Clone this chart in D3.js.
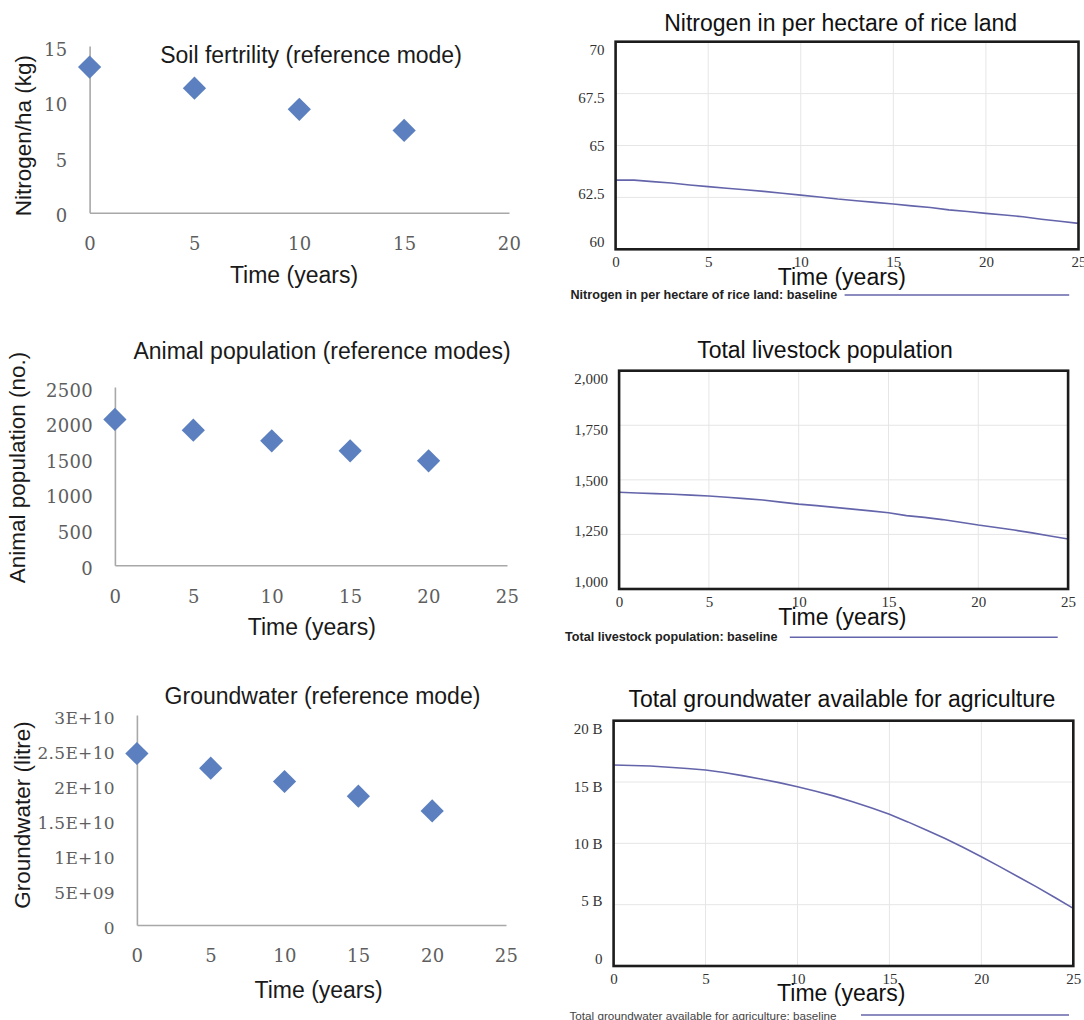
<!DOCTYPE html>
<html>
<head>
<meta charset="utf-8">
<script src="https://cdn.jsdelivr.net/npm/d3@7"></script>
<style>
  html, body { margin: 0; padding: 0; background: #fff; }
  svg { display: block; }
</style>
</head>
<body>
<svg id="chart" width="1084" height="1020"></svg>
<script>
// ---------------- DATA ----------------
// Reference modes (scatter, left column)
const soilYears = [0, 5, 10, 15];
const soilNitrogen = [13.1, 11.2, 9.3, 7.4];
const soilXTicks = [0, 5, 10, 15, 20];
const soilYTicks = [0, 5, 10, 15];

const animalYears = [0, 5, 10, 15, 20];
const animalPopulation = [2045, 1895, 1745, 1605, 1465];
const animalXTicks = [0, 5, 10, 15, 20, 25];
const animalYTicks = [0, 500, 1000, 1500, 2000, 2500];

const gwRefYears = [0, 5, 10, 15, 20];
const gwRefLitres = [2.45e10, 2.24e10, 2.05e10, 1.84e10, 1.63e10];
const gwRefXTicks = [0, 5, 10, 15, 20, 25];
const gwRefYTicks = [0, 5e9, 1e10, 1.5e10, 2e10, 2.5e10, 3e10];
const gwRefYLabels = ["0", "5E+09", "1E+10", "1.5E+10", "2E+10", "2.5E+10", "3E+10"];

// Simulation baselines (lines, right column)
const simYears = [0,1,2,3,4,5,6,7,8,9,10,11,12,13,14,15,16,17,18,19,20,21,22,23,24,25];
const simXTicks = [0, 5, 10, 15, 20, 25];

const nitrogenBaseline = [63.33, 63.33, 63.26, 63.19, 63.10, 63.02, 62.94, 62.87, 62.79, 62.70,
  62.61, 62.52, 62.42, 62.34, 62.26, 62.18, 62.09, 62.01, 61.90, 61.82,
  61.73, 61.65, 61.57, 61.45, 61.35, 61.25];
const nitrogenYTicks = [60, 62.5, 65, 67.5, 70];
const nitrogenYLabels = ["60", "62.5", "65", "67.5", "70"];

const livestockBaseline = [1443, 1440, 1437, 1434, 1430, 1426, 1420, 1414, 1408, 1398,
  1389, 1382, 1374, 1366, 1358, 1349, 1336, 1328, 1318, 1306,
  1293, 1282, 1270, 1257, 1243, 1229];
const livestockYTicks = [1000, 1250, 1500, 1750, 2000];
const livestockYLabels = ["1,000", "1,250", "1,500", "1,750", "2,000"];

// billions of litres
const groundwaterBaseline = [16.39, 16.35, 16.31, 16.2, 16.1, 15.98, 15.77, 15.52, 15.25, 14.95,
  14.62, 14.25, 13.85, 13.4, 12.9, 12.37, 11.75, 11.09, 10.41, 9.68,
  8.91, 8.1, 7.28, 6.45, 5.58, 4.70];
const groundwaterYTicks = [0, 5, 10, 15, 20];
const groundwaterYLabels = ["0", "5 B", "10 B", "15 B", "20 B"];

// ---------------- LAYOUT / STYLE ----------------
const svg = d3.select("#chart");
const SANS = "'Liberation Sans', Arial, sans-serif";
const SERIF_L = "'DejaVu Serif', serif";
const SERIF_R = "'Liberation Serif', 'Times New Roman', serif";

function drawScatterPanel(cfg) {
  const x = d3.scaleLinear().domain([0, cfg.xTicks[cfg.xTicks.length - 1]]).range(cfg.xRange);
  const y = d3.scaleLinear().domain([0, cfg.yTicks[cfg.yTicks.length - 1]]).range(cfg.yRange);
  const g = svg.append("g");

  const yAxis = d3.axisLeft(y).tickValues(cfg.yTicks).tickSize(0).tickSizeOuter(0).tickPadding(22)
    .tickFormat((d, i) => cfg.yLabels ? cfg.yLabels[i] : d);
  const ya = g.append("g").attr("transform", `translate(${cfg.xRange[0]},0)`).call(yAxis);

  const xAxis = d3.axisBottom(x).tickValues(cfg.xTicks).tickSize(0).tickSizeOuter(0).tickPadding(24.5);
  const xa = g.append("g").attr("transform", `translate(0,${cfg.yRange[0]})`).call(xAxis);

  [ya, xa].forEach(a => {
    a.select(".domain").attr("stroke", "#a8a8a8").attr("stroke-width", 1.6);
    a.selectAll("text").attr("font-family", SERIF_L).attr("font-size", 18)
      .attr("fill", "#5e5e5e").attr("letter-spacing", 0.3);
  });
  ya.selectAll("text").attr("dy", "0.5em").attr("font-size", cfg.yLabelSize || 18);

  g.selectAll("path.pt").data(cfg.xs.map((t, i) => [t, cfg.ys[i]])).enter()
    .append("path").attr("class", "pt")
    .attr("d", d3.symbol(d3.symbolSquare, 270)())
    .attr("transform", d => `translate(${x(d[0])},${y(d[1])}) rotate(45)`)
    .attr("fill", "#5b7fbf");

  g.append("text").attr("x", cfg.title.x).attr("y", cfg.title.y)
    .attr("text-anchor", "middle").attr("dominant-baseline", "central")
    .attr("font-family", SANS).attr("font-size", 23).attr("fill", "#1a1a1a").text(cfg.title.text);
  g.append("text").attr("x", cfg.xTitle.x).attr("y", cfg.xTitle.y)
    .attr("text-anchor", "middle").attr("dominant-baseline", "central")
    .attr("font-family", SANS).attr("font-size", 23).attr("fill", "#1a1a1a").text("Time (years)");
  g.append("text").attr("transform", `translate(${cfg.yTitle.x},${cfg.yTitle.y}) rotate(-90)`)
    .attr("text-anchor", "middle").attr("dominant-baseline", "central")
    .attr("font-family", SANS).attr("font-size", 22.5).attr("fill", "#1a1a1a").text(cfg.yTitle.text);
}

function drawLinePanel(cfg) {
  const yd = [cfg.yTicks[0], cfg.yTicks[cfg.yTicks.length - 1]];
  const x = d3.scaleLinear().domain([0, 25]).range(cfg.xRange);
  const y = d3.scaleLinear().domain(yd).range(cfg.yRange);
  const g = svg.append("g");

  // grid
  g.selectAll("line.vg").data(simXTicks.slice(1, -1)).enter().append("line")
    .attr("x1", d => x(d)).attr("x2", d => x(d))
    .attr("y1", cfg.yRange[1]).attr("y2", cfg.yRange[0])
    .attr("stroke", "#e6e6e6").attr("stroke-width", 1);
  g.selectAll("line.hg").data(cfg.yTicks.slice(1, -1)).enter().append("line")
    .attr("y1", d => y(d)).attr("y2", d => y(d))
    .attr("x1", cfg.xRange[0]).attr("x2", cfg.xRange[1])
    .attr("stroke", "#e6e6e6").attr("stroke-width", 1);

  // line
  const line = d3.line().x((d, i) => x(simYears[i])).y(d => y(d));
  g.append("path").datum(cfg.values).attr("d", line)
    .attr("fill", "none").attr("stroke", "#6464ab").attr("stroke-width", 1.6);

  // axes
  const n = cfg.yTicks.length;
  const yAxis = d3.axisLeft(y).tickValues(cfg.yTicks).tickSize(0).tickSizeOuter(0).tickPadding(11)
    .tickFormat((d, i) => cfg.yLabels[i]);
  const ya = g.append("g").attr("transform", `translate(${cfg.xRange[0]},0)`).call(yAxis);
  ya.selectAll(".tick text").attr("y", (d, i) => 8.5 - 16 * (n - 1 - i) / (n - 1));
  const xAxis = d3.axisBottom(x).tickValues(simXTicks).tickSize(0).tickSizeOuter(0).tickPadding(7);
  const xa = g.append("g").attr("transform", `translate(0,${cfg.yRange[0]})`).call(xAxis);
  [ya, xa].forEach(a => {
    a.select(".domain").remove();
    a.selectAll("text").attr("font-family", SERIF_R).attr("font-size", 15)
      .attr("fill", "#333");
  });

  // frame
  g.append("rect").attr("x", cfg.xRange[0]).attr("y", cfg.yRange[1])
    .attr("width", cfg.xRange[1] - cfg.xRange[0]).attr("height", cfg.yRange[0] - cfg.yRange[1])
    .attr("fill", "none").attr("stroke", "#1c1c1c").attr("stroke-width", 2.6);

  g.append("text").attr("x", cfg.title.x).attr("y", cfg.title.y)
    .attr("text-anchor", "middle").attr("dominant-baseline", "central")
    .attr("font-family", SANS).attr("font-size", 23).attr("fill", "#111").text(cfg.title.text);
  g.append("text").attr("x", cfg.xTitle.x).attr("y", cfg.xTitle.y)
    .attr("text-anchor", "middle").attr("dominant-baseline", "central")
    .attr("font-family", SANS).attr("font-size", 23).attr("fill", "#111").text("Time (years)");

  // legend
  g.append("text").attr("x", cfg.legend.x).attr("y", cfg.legend.y)
    .attr("dominant-baseline", "central")
    .attr("font-family", SANS).attr("font-size", cfg.legend.bold ? 12.6 : 11.7)
    .attr("font-weight", cfg.legend.bold ? "bold" : "normal")
    .attr("fill", cfg.legend.bold ? "#222" : "#444").text(cfg.legend.text);
  g.append("line").attr("x1", cfg.legend.x1).attr("x2", cfg.legend.x2)
    .attr("y1", cfg.legend.y).attr("y2", cfg.legend.y)
    .attr("stroke", "#6464ab").attr("stroke-width", 1.4);
}

drawScatterPanel({
  xs: soilYears, ys: soilNitrogen, xTicks: soilXTicks, yTicks: soilYTicks,
  xRange: [89.6, 509], yRange: [212.7, 46],
  title: { x: 311, y: 55, text: "Soil fertrility (reference mode)" },
  xTitle: { x: 294, y: 275 },
  yTitle: { x: 23.7, y: 135.7, text: "Nitrogen/ha (kg)" }
});
drawScatterPanel({
  xs: animalYears, ys: animalPopulation, xTicks: animalXTicks, yTicks: animalYTicks,
  xRange: [114.9, 507], yRange: [565.3, 387],
  title: { x: 322, y: 350.7, text: "Animal population (reference modes)" },
  xTitle: { x: 311.8, y: 626.7 },
  yTitle: { x: 17, y: 467.5, text: "Animal population (no.)" }
});
drawScatterPanel({
  xs: gwRefYears, ys: gwRefLitres, xTicks: gwRefXTicks, yTicks: gwRefYTicks, yLabels: gwRefYLabels,
  yLabelSize: 17,
  xRange: [136.9, 506], yRange: [925, 715],
  title: { x: 322.5, y: 696, text: "Groundwater (reference mode)" },
  xTitle: { x: 318.6, y: 990 },
  yTitle: { x: 22, y: 815, text: "Groundwater (litre)" }
});

drawLinePanel({
  values: nitrogenBaseline, yTicks: nitrogenYTicks, yLabels: nitrogenYLabels,
  xRange: [615.6, 1078.5], yRange: [249.3, 41.7],
  title: { x: 840.7, y: 23.3, text: "Nitrogen in per hectare of rice land" },
  xTitle: { x: 841.9, y: 276.7 },
  legend: { x: 570.5, y: 295, x1: 844.6, x2: 1069.2, bold: true,
            text: "Nitrogen in per hectare of rice land: baseline" }
});
drawLinePanel({
  values: livestockBaseline, yTicks: livestockYTicks, yLabels: livestockYLabels,
  xRange: [619.1, 1068.1], yRange: [589, 370.7],
  title: { x: 825, y: 350, text: "Total livestock population" },
  xTitle: { x: 842.4, y: 616.7 },
  legend: { x: 565, y: 637.3, x1: 789.8, x2: 1057.7, bold: true,
            text: "Total livestock population: baseline" }
});
drawLinePanel({
  values: groundwaterBaseline, yTicks: groundwaterYTicks, yLabels: groundwaterYLabels,
  xRange: [613.6, 1073.3], yRange: [966, 720.7],
  title: { x: 841.9, y: 699.3, text: "Total groundwater available for agriculture" },
  xTitle: { x: 841.2, y: 993 },
  legend: { x: 569.5, y: 1015, x1: 861, x2: 1069, bold: false,
            text: "Total groundwater available for agriculture: baseline" }
});
</script>
</body>
</html>
